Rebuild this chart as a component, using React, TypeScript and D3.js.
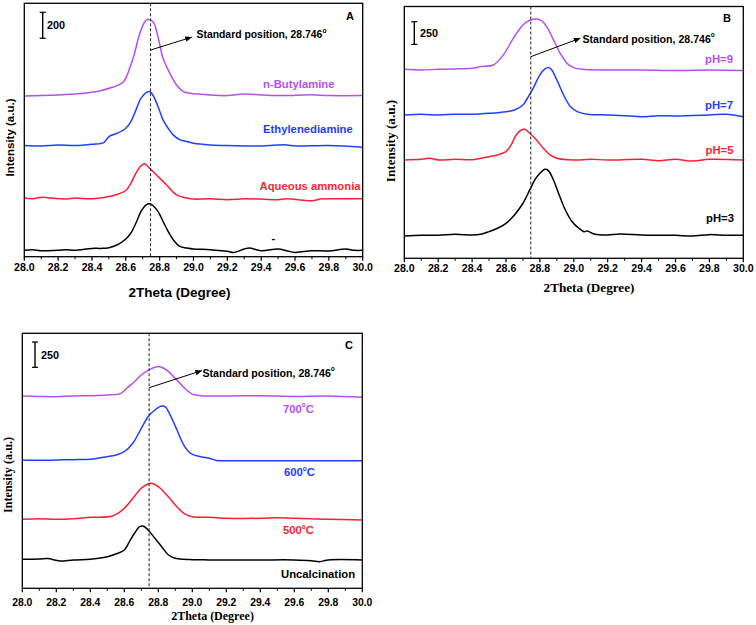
import React from 'react';
import * as d3 from 'd3';

type Pt = [number, number];

const X_TICKS = [28.0, 28.2, 28.4, 28.6, 28.8, 29.0, 29.2, 29.4, 29.6, 29.8, 30.0];
const X_MINOR = [28.1, 28.3, 28.5, 28.7, 28.9, 29.1, 29.3, 29.5, 29.7, 29.9];
const STANDARD_POSITION = 28.746;
const ANNOTATION = 'Standard position, 28.746';

// Panel A: amine type
const A_LABELS = ['n-Butylamine', 'Ethylenediamine', 'Aqueous ammonia', '-'];
const A_SCALE_BAR = 200;
const A_black: Pt[] = [[28.0,49],[28.05,54],[28.1,46],[28.2,49],[28.25,54],[28.3,49],[28.4,64],[28.45,64],[28.5,69],[28.55,92],[28.6,136],[28.63,182],[28.66,259],[28.69,348],[28.72,399],[28.74,407],[28.76,394],[28.79,348],[28.82,271],[28.85,195],[28.88,131],[28.92,79],[28.96,67],[29.0,59],[29.1,54],[29.2,41],[29.24,33],[29.3,59],[29.33,67],[29.4,46],[29.5,59],[29.55,46],[29.6,33],[29.7,46],[29.8,44],[29.9,59],[29.95,49],[30.0,49]];
const A_red: Pt[] = [[28.0,451],[28.05,445],[28.1,458],[28.15,451],[28.25,443],[28.3,451],[28.4,445],[28.5,463],[28.56,484],[28.6,509],[28.63,566],[28.66,643],[28.69,699],[28.71,714],[28.74,681],[28.78,630],[28.84,553],[28.9,476],[28.96,451],[29.0,443],[29.1,445],[29.2,438],[29.3,445],[29.4,443],[29.5,438],[29.55,445],[29.7,430],[29.75,443],[29.85,445],[30.0,445]];
const A_blue: Pt[] = [[28.0,855],[28.1,852],[28.2,860],[28.3,855],[28.4,865],[28.47,878],[28.5,924],[28.55,950],[28.6,988],[28.63,1039],[28.66,1129],[28.69,1219],[28.72,1262],[28.74,1270],[28.76,1244],[28.79,1155],[28.82,1052],[28.85,988],[28.88,937],[28.92,899],[28.96,886],[29.0,873],[29.1,860],[29.2,855],[29.4,852],[29.55,860],[29.6,852],[29.8,855],[30.0,842]];
const A_purple: Pt[] = [[28.0,1236],[28.1,1239],[28.2,1244],[28.3,1252],[28.35,1257],[28.45,1277],[28.52,1303],[28.575,1334],[28.594,1359],[28.643,1526],[28.683,1718],[28.712,1807],[28.73,1825],[28.761,1807],[28.79,1692],[28.82,1526],[28.86,1411],[28.9,1321],[28.94,1270],[28.98,1257],[29.05,1249],[29.1,1244],[29.2,1239],[29.3,1252],[29.4,1244],[29.5,1239],[29.6,1241],[29.7,1246],[29.8,1239],[30.0,1239]];

// Panel B: pH
const B_LABELS = ['pH=9', 'pH=7', 'pH=5', 'pH=3'];
const B_SCALE_BAR = 250;
const B_black: Pt[] = [[28.0,246],[28.1,254],[28.2,254],[28.3,265],[28.4,257],[28.45,265],[28.5,294],[28.55,331],[28.6,386],[28.65,478],[28.7,607],[28.74,754],[28.77,864],[28.8,937],[28.83,981],[28.85,967],[28.88,864],[28.91,717],[28.95,533],[28.99,404],[29.03,331],[29.06,294],[29.08,301],[29.12,268],[29.2,257],[29.27,268],[29.4,257],[29.5,254],[29.6,254],[29.7,246],[29.8,261],[29.9,254],[30.0,254]];
const B_red: Pt[] = [[28.0,1084],[28.1,1092],[28.15,1103],[28.2,1084],[28.3,1092],[28.4,1088],[28.5,1121],[28.55,1140],[28.6,1176],[28.63,1250],[28.66,1360],[28.69,1415],[28.71,1423],[28.74,1379],[28.78,1305],[28.82,1213],[28.86,1140],[28.9,1103],[29.0,1084],[29.1,1092],[29.2,1084],[29.4,1092],[29.5,1077],[29.6,1092],[29.7,1073],[29.8,1092],[30.0,1084]];
const B_blue: Pt[] = [[28.0,1581],[28.1,1588],[28.2,1581],[28.3,1588],[28.4,1588],[28.5,1599],[28.6,1617],[28.65,1636],[28.7,1691],[28.72,1746],[28.76,1875],[28.8,2022],[28.83,2088],[28.85,2103],[28.87,2077],[28.9,1967],[28.94,1801],[28.98,1673],[29.02,1617],[29.08,1588],[29.2,1581],[29.3,1573],[29.4,1562],[29.5,1573],[29.6,1570],[29.8,1581],[29.9,1588],[30.0,1562]];
const B_purple: Pt[] = [[28.0,2084],[28.1,2077],[28.2,2084],[28.3,2088],[28.4,2095],[28.45,2114],[28.525,2132],[28.584,2242],[28.643,2426],[28.7,2573],[28.74,2625],[28.78,2639],[28.81,2620],[28.84,2555],[28.88,2408],[28.92,2261],[28.96,2150],[29.0,2103],[29.05,2084],[29.2,2077],[29.4,2077],[29.6,2070],[29.8,2077],[30.0,2070]];

// Panel C: calcination temperature
const C_LABELS = ['700', '600', '500', 'Uncalcination'];
const C_SCALE_BAR = 250;
const C_black: Pt[] = [[28.0,286],[28.1,289],[28.15,293],[28.22,270],[28.3,280],[28.4,286],[28.45,296],[28.5,312],[28.55,339],[28.6,378],[28.63,460],[28.66,543],[28.69,608],[28.71,615],[28.74,576],[28.78,493],[28.82,411],[28.86,329],[28.9,296],[28.95,286],[29.0,283],[29.1,280],[29.2,280],[29.4,280],[29.6,280],[29.7,273],[29.75,263],[29.8,280],[30.0,280]];
const C_red: Pt[] = [[28.0,681],[28.1,687],[28.2,681],[28.3,687],[28.4,701],[28.53,714],[28.6,789],[28.65,888],[28.7,987],[28.74,1029],[28.76,1036],[28.8,1003],[28.85,921],[28.9,822],[28.95,740],[29.0,707],[29.1,701],[29.2,691],[29.4,691],[29.5,697],[29.6,691],[29.8,681],[30.0,674]];
const C_blue: Pt[] = [[28.0,1266],[28.1,1263],[28.2,1266],[28.3,1270],[28.4,1273],[28.5,1299],[28.55,1316],[28.6,1348],[28.65,1431],[28.7,1579],[28.74,1694],[28.78,1760],[28.82,1799],[28.84,1793],[28.87,1710],[28.91,1562],[28.95,1414],[28.99,1332],[29.05,1299],[29.1,1283],[29.15,1260],[29.2,1260],[29.4,1260],[29.6,1260],[30.0,1260]];
const C_purple: Pt[] = [[28.0,1898],[28.1,1894],[28.2,1891],[28.3,1898],[28.4,1901],[28.5,1908],[28.58,1924],[28.62,1983],[28.66,2039],[28.7,2105],[28.75,2161],[28.79,2187],[28.81,2187],[28.85,2154],[28.9,2072],[28.95,1983],[29.0,1917],[29.05,1901],[29.2,1898],[29.4,1901],[29.6,1894],[29.8,1898],[30.0,1885]];

const PURPLE = '#b64ff0';
const BLUE = '#2040ff';
const RED = '#ff1f35';
const BLACK = '#000000';
const SANS = '"Liberation Sans", Arial, sans-serif';
const SERIF = '"Liberation Serif", "Times New Roman", serif';

type LabelSpec = { text: string; x: number; y: number; color: string; anchor?: 'start' | 'end'; degree?: boolean };

type PanelCfg = {
  id: string;
  l: number; t: number; r: number; b: number;
  yMax: number;
  series: { data: Pt[]; color: string }[];
  labels: LabelSpec[];
  barValue: number; barX: number; barTop: number; barLabelX: number;
  letterX: number; letterY: number;
  arrowY0: number; arrowX1: number; arrowY1: number; annX: number; annY: number; annSize: number;
  tickY: number; tickSize: number;
  xLabelX: number; xLabelY: number; xLabelSize: number;
  yLabelX: number; yLabelY: number; yLabelSize: number;
  titleFont: string;
};

const PANELS: PanelCfg[] = [
  {
    id: 'A', l: 24.3, t: 3.3, r: 362.7, b: 256.7, yMax: 1949,
    series: [
      { data: A_black, color: BLACK }, { data: A_red, color: RED },
      { data: A_blue, color: BLUE }, { data: A_purple, color: PURPLE },
    ],
    labels: [
      { text: A_LABELS[0], x: 263, y: 83.5, color: PURPLE },
      { text: A_LABELS[1], x: 263, y: 128.5, color: BLUE },
      { text: A_LABELS[2], x: 259.5, y: 186, color: RED },
      { text: A_LABELS[3], x: 271.5, y: 238, color: BLACK },
    ],
    barValue: A_SCALE_BAR, barX: 42.7, barTop: 12.3, barLabelX: 47,
    letterX: 350, letterY: 16,
    arrowY0: 50, arrowX1: 28.988, arrowY1: 37.3, annX: 196.5, annY: 34.5, annSize: 10.4,
    tickY: 267, tickSize: 10.6,
    xLabelX: 179.5, xLabelY: 292, xLabelSize: 13.5,
    yLabelX: 9.5, yLabelY: 137.5, yLabelSize: 11.5,
    titleFont: SANS,
  },
  {
    id: 'B', l: 404.3, t: 6.5, r: 743.3, b: 258.3, yMax: 2777,
    series: [
      { data: B_black, color: BLACK }, { data: B_red, color: RED },
      { data: B_blue, color: BLUE }, { data: B_purple, color: PURPLE },
    ],
    labels: [
      { text: B_LABELS[0], x: 733, y: 58.5, color: PURPLE, anchor: 'end' },
      { text: B_LABELS[1], x: 733, y: 104.5, color: BLUE, anchor: 'end' },
      { text: B_LABELS[2], x: 733.5, y: 150, color: RED, anchor: 'end' },
      { text: B_LABELS[3], x: 734, y: 218, color: BLACK, anchor: 'end' },
    ],
    barValue: B_SCALE_BAR, barX: 414.3, barTop: 21.7, barLabelX: 420,
    letterX: 727, letterY: 18,
    arrowY0: 56.7, arrowX1: 29.037, arrowY1: 38.3, annX: 582.5, annY: 38.5, annSize: 10.6,
    tickY: 268, tickSize: 10.6,
    xLabelX: 589, xLabelY: 287.5, xLabelSize: 13.2,
    yLabelX: 390.5, yLabelY: 141, yLabelSize: 13.2,
    titleFont: SERIF,
  },
  {
    id: 'C', l: 22.3, t: 333.3, r: 362.3, b: 588.3, yMax: 2517,
    series: [
      { data: C_black, color: BLACK }, { data: C_red, color: RED },
      { data: C_blue, color: BLUE }, { data: C_purple, color: PURPLE },
    ],
    labels: [
      { text: C_LABELS[0], x: 283, y: 408.5, color: PURPLE, degree: true },
      { text: C_LABELS[1], x: 284, y: 472, color: BLUE, degree: true },
      { text: C_LABELS[2], x: 283, y: 530, color: RED, degree: true },
      { text: C_LABELS[3], x: 281, y: 573.5, color: BLACK },
    ],
    barValue: C_SCALE_BAR, barX: 35, barTop: 342, barLabelX: 41,
    letterX: 349, letterY: 344.5,
    arrowY0: 387.7, arrowX1: 29.055, arrowY1: 370.7, annX: 202.5, annY: 372.5, annSize: 10.6,
    tickY: 602.5, tickSize: 10.4,
    xLabelX: 212.5, xLabelY: 616, xLabelSize: 12,
    yLabelX: 7.5, yLabelY: 475, yLabelSize: 12.2,
    titleFont: SERIF,
  },
];

function Panel({ cfg }: { cfg: PanelCfg }) {
  const x = d3.scaleLinear().domain([28, 30]).range([cfg.l, cfg.r]);
  const y = d3.scaleLinear().domain([0, cfg.yMax]).range([cfg.b, cfg.t]);
  const line = d3.line<Pt>().x((d) => x(d[0])).y((d) => y(d[1])).curve(d3.curveCatmullRom.alpha(0.5));
  const barLen = y(0) - y(cfg.barValue);
  const sx = x(STANDARD_POSITION);
  const ax1 = x(cfg.arrowX1);
  const markerId = `arrow-${cfg.id}`;
  return (
    <g>
      <defs>
        <marker id={markerId} viewBox="0 0 10 10" refX="9" refY="5" markerWidth="7" markerHeight="7" orient="auto" markerUnits="userSpaceOnUse">
          <path d="M0,1 L10,5 L0,9 Z" fill="#000" />
        </marker>
      </defs>
      {cfg.series.map((s, i) => (
        <path key={i} d={line(s.data) || ''} fill="none" stroke={s.color} strokeWidth={1.5} strokeLinejoin="round" />
      ))}
      <line x1={sx} x2={sx} y1={cfg.t} y2={cfg.b} stroke="#333" strokeWidth={1.1} strokeDasharray="3,2" />
      <rect x={cfg.l} y={cfg.t} width={cfg.r - cfg.l} height={cfg.b - cfg.t} fill="none" stroke="#000" strokeWidth={1.3} />
      {X_TICKS.map((t) => (
        <g key={t}>
          <line x1={x(t)} x2={x(t)} y1={cfg.b} y2={cfg.b + 4} stroke="#000" strokeWidth={1.2} />
          <text x={x(t)} y={cfg.tickY} textAnchor="middle" dominantBaseline="central" fontFamily={SANS} fontWeight="bold" fontSize={cfg.tickSize}>{t.toFixed(1)}</text>
        </g>
      ))}
      {X_MINOR.map((t) => (
        <line key={t} x1={x(t)} x2={x(t)} y1={cfg.b} y2={cfg.b + 2.5} stroke="#000" strokeWidth={1} />
      ))}
      {/* scale bar */}
      <line x1={cfg.barX} x2={cfg.barX} y1={cfg.barTop} y2={cfg.barTop + barLen} stroke="#000" strokeWidth={1.4} />
      <line x1={cfg.barX - 3} x2={cfg.barX + 3} y1={cfg.barTop} y2={cfg.barTop} stroke="#000" strokeWidth={1.2} />
      <line x1={cfg.barX - 3} x2={cfg.barX + 3} y1={cfg.barTop + barLen} y2={cfg.barTop + barLen} stroke="#000" strokeWidth={1.2} />
      <text x={cfg.barLabelX} y={cfg.barTop + barLen / 2} dominantBaseline="central" fontFamily={SANS} fontWeight="bold" fontSize={10.8}>{cfg.barValue}</text>
      <text x={cfg.letterX} y={cfg.letterY} textAnchor="middle" dominantBaseline="central" fontFamily={SANS} fontWeight="bold" fontSize={11}>{cfg.id}</text>
      {/* annotation */}
      <line x1={sx} y1={cfg.arrowY0} x2={ax1} y2={cfg.arrowY1} stroke="#000" strokeWidth={1} markerEnd={`url(#${markerId})`} />
      <text x={cfg.annX} y={cfg.annY} dominantBaseline="central" fontFamily={SANS} fontWeight="bold" fontSize={cfg.annSize}>
        {ANNOTATION}
        <tspan fontSize={6.5} dy={-4.5}>o</tspan>
      </text>
      {cfg.labels.map((lb, i) => (
        <text key={i} x={lb.x} y={lb.y} textAnchor={lb.anchor || 'start'} dominantBaseline="central" fill={lb.color} fontFamily={SANS} fontWeight="bold" fontSize={11.3}>
          {lb.text}
          {lb.degree ? (
            <>
              <tspan fontSize={6.5} dy={-4.5}>o</tspan>
              <tspan dy={4.5}>C</tspan>
            </>
          ) : null}
        </text>
      ))}
      <text x={cfg.xLabelX} y={cfg.xLabelY} textAnchor="middle" dominantBaseline="central" fontFamily={cfg.titleFont} fontWeight="bold" fontSize={cfg.xLabelSize}>2Theta (Degree)</text>
      <text transform={`translate(${cfg.yLabelX},${cfg.yLabelY}) rotate(-90)`} textAnchor="middle" dominantBaseline="central" fontFamily={cfg.titleFont} fontWeight="bold" fontSize={cfg.yLabelSize}>Intensity (a.u.)</text>
    </g>
  );
}

export default function App() {
  return (
    <svg width={756} height={625} style={{ position: 'absolute', left: 0, top: 0, background: '#fff' }}>
      <rect x={0} y={0} width={756} height={625} fill="#fff" />
      {PANELS.map((p) => (
        <Panel key={p.id} cfg={p} />
      ))}
    </svg>
  );
}
